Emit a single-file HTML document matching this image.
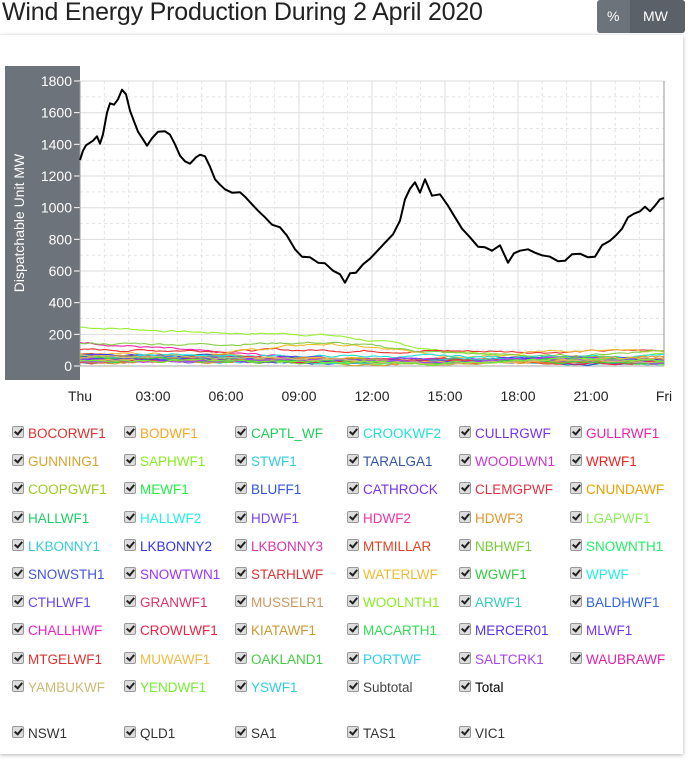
<!DOCTYPE html>
<html><head><meta charset="utf-8">
<style>
body{margin:0;width:690px;height:760px;background:#fff;font-family:"Liberation Sans",sans-serif;position:relative;overflow:hidden}
h1{position:absolute;left:2px;top:-2px;margin:0;font-weight:normal;font-size:25px;color:#222;letter-spacing:-0.2px}
.btns{position:absolute;left:597px;top:0;width:88px;height:33px;background:#6c737a;border-radius:3px;color:#fff;font-size:14px}
.btns span{position:absolute;top:8px}
.btns .on{position:absolute;left:33px;top:0;width:55px;height:33px;background:#5a6168;border-radius:0 3px 3px 0}
.card{position:absolute;left:0;top:35px;width:683px;height:719px;box-shadow:0 1px 4px rgba(0,0,0,.3);background:#fff}
.lg{position:absolute;font-size:13.5px;white-space:nowrap}
.cb{position:absolute;width:10px;height:10px;border:1px solid #999;border-radius:2px;background:#ddd;top:-8px}
.cb:after{content:"";position:absolute;left:3px;top:0px;width:3px;height:6px;border:solid #222;border-width:0 2px 2px 0;transform:rotate(40deg)}
.lg b{font-weight:normal;position:absolute;left:16px;top:-8px}
</style></head><body>
<h1>Wind Energy Production During 2 April 2020</h1>
<div class="btns"><span style="left:10px">%</span><div class="on"></div><span style="left:46px">MW</span></div>
<div class="card"></div>
<svg id="ch" width="690" height="420" style="position:absolute;left:0;top:0"></svg>
<div id="leg"></div>
<script>
var s='';
s+='<rect x="5" y="66" width="75" height="314" fill="#6c737a"/>';
for(var i=0;i<=18;i++){var y=366-i*15.83;s+='<line x1="80" x2="664" y1="'+y+'" y2="'+y+'" stroke="'+(i%2?'#e4e4e4':'#ddd')+'" '+(i%2?'stroke-dasharray="3,3"':'')+'/>';}
for(var i=0;i<=24;i++){var x=80+i*24.33;s+='<line y1="81" y2="366" x1="'+x+'" x2="'+x+'" stroke="'+(i%3?'#e4e4e4':'#ddd')+'" '+(i%3?'stroke-dasharray="3,3"':'')+'/>';}
for(var i=0;i<=9;i++){var y=366-i*31.67;s+='<text x="72" y="'+(y+5)+'" fill="#fff" font-size="14" text-anchor="end" font-family="Liberation Sans">'+(i*200)+'</text><line x1="74" x2="80" y1="'+y+'" y2="'+y+'" stroke="#fff"/>';}
s+='<text transform="translate(24,223) rotate(-90)" fill="#fff" font-size="14" text-anchor="middle" font-family="Liberation Sans">Dispatchable Unit MW</text>';
var xl=['Thu','03:00','06:00','09:00','12:00','15:00','18:00','21:00','Fri'];
for(var i=0;i<9;i++){s+='<text x="'+(80+i*73)+'" y="401" font-size="14" fill="#222" text-anchor="middle" font-family="Liberation Sans">'+xl[i]+'</text>';}
s+='<line x1="80" x2="80" y1="81" y2="366" stroke="#999"/><line x1="664" x2="664" y1="81" y2="366" stroke="#999"/><line x1="80" x2="664" y1="366" y2="366" stroke="#aaa"/>';
var cols=['#9e3','#e2a','#e33','#eb3','#8c4','#2dd','#73e','#d9a330','#8e2','#3cd','#35c','#c3c','#e22','#9c2','#2e4','#35d','#d34','#e9a000','#2c6','#2ee','#74e','#e3a','#d93','#8e5','#33e','#d42','#7c3','#93f','#3c4','#64e','#c96','#3cb','#e24','#c93','#53e','#eb4','#4c4','#a4e','#cb7','#7e3'];
var seed=7;function r(){seed=(seed*9301+49297)%233280;return seed/233280;}
var base=[[245,210,200,90,50,80],[150,80,50,30,60,40],[100,100,100,95,90,100],[80,80,145,60,100,85],[140,140,150,80,60,110],[60,70,60,60,50,70]];
for(var k=0;k<cols.length;k++){
 var b=base[k]||[20+r()*50,20+r()*50,10+r()*40,10+r()*40,10+r()*50,10+r()*50];
 var v=b[0],p='';
 for(var x=80;x<=664;x+=4){var t=(x-80)/584*5;var i0=Math.min(4,Math.floor(t)),f=t-i0;var tgt=b[i0]*(1-f)+b[i0+1]*f;v+= (tgt-v)*0.2+(r()-0.5)*12;if(v<2)v=2;p+=(x==80?'M':'L')+x+','+(366-v*0.1583).toFixed(1);}
 s+='<path d="'+p+'" fill="none" stroke="'+cols[k]+'" stroke-width="1.1"/>';
}
var pts=[[80,160],[83,150],[86,146],[93,140],[97,137],[100,143],[103,135],[107,112],[110,104],[114,104],[118,100],[122,89],[126,95],[130,110],[134,122],[138,131],[143,140],[147,145],[152,139],[158,131],[165,132],[170,134],[175,145],[180,155],[185,162],[190,163],[196,158],[200,154],[205,157],[210,166],[215,180],[220,184],[225,190],[232,192],[240,193],[245,196],[252,205],[258,210],[265,218],[272,224],[280,228],[287,235],[295,250],[302,256],[310,258],[318,262],[325,264],[333,270],[340,275],[345,282],[350,274],[356,272],[363,265],[370,258],[377,252],[385,242],[393,235],[400,220],[405,200],[410,188],[415,183],[420,192],[425,180],[432,195],[440,195],[448,205],[455,218],[462,228],[470,238],[478,246],[485,248],[492,250],[500,246],[508,262],[514,254],[520,250],[528,250],[535,252],[542,256],[550,256],[558,262],[565,260],[572,255],[580,253],[588,258],[595,256],[602,246],[610,240],[616,236],[622,228],[628,218],[634,213],[640,212],[645,206],[650,212],[655,205],[660,200],[664,198]];
var d='';for(var i=0;i<pts.length;i++){var jj=(i%2?0.7:-0.7);d+=(i?'L':'M')+pts[i][0]+','+(pts[i][1]+(i&&i<pts.length-1?jj:0));}
s+='<path d="'+d+'" fill="none" stroke="#000" stroke-width="2" stroke-linejoin="round"/>';
document.getElementById('ch').innerHTML=s;
var L=[['BOCORWF1','#d33'],['BODWF1','#f5a623'],['CAPTL_WF','#2c5'],['CROOKWF2','#2dd'],['CULLRGWF','#73e'],['GULLRWF1','#e2a'],
['GUNNING1','#d9a330'],['SAPHWF1','#8e2'],['STWF1','#3cd'],['TARALGA1','#35a'],['WOODLWN1','#c3c'],['WRWF1','#e22'],
['COOPGWF1','#9c2'],['MEWF1','#2e4'],['BLUFF1','#35d'],['CATHROCK','#73e'],['CLEMGPWF','#d34'],['CNUNDAWF','#e9a000'],
['HALLWF1','#2c6'],['HALLWF2','#2ee'],['HDWF1','#74e'],['HDWF2','#e3a'],['HDWF3','#d93'],['LGAPWF1','#8e5'],
['LKBONNY1','#3cd'],['LKBONNY2','#33e'],['LKBONNY3','#d3a'],['MTMILLAR','#d42'],['NBHWF1','#7c3'],['SNOWNTH1','#2e6'],
['SNOWSTH1','#45d'],['SNOWTWN1','#93f'],['STARHLWF','#d33'],['WATERLWF','#eb3'],['WGWF1','#3c4'],['WPWF','#2ee'],
['CTHLWF1','#64e'],['GRANWF1','#d36'],['MUSSELR1','#c96'],['WOOLNTH1','#8e2'],['ARWF1','#3cb'],['BALDHWF1','#36d'],
['CHALLHWF','#e2b'],['CROWLWF1','#e24'],['KIATAWF1','#c93'],['MACARTH1','#3d5'],['MERCER01','#53e'],['MLWF1','#73e'],
['MTGELWF1','#d33'],['MUWAWF1','#eb4'],['OAKLAND1','#4c4'],['PORTWF','#3ce'],['SALTCRK1','#a4e'],['WAUBRAWF','#d2a'],
['YAMBUKWF','#cb7'],['YENDWF1','#7e3'],['YSWF1','#3cd'],['Subtotal','#444'],['Total','#000']];
var cx=[12,124,235,347,459,570],h='';
for(var i=0;i<L.length;i++){var c=i%6,rw=Math.floor(i/6);h+='<div class="lg" style="left:'+cx[c]+'px;top:'+(434+rw*28.2)+'px;color:'+L[i][1]+'"><i class="cb"></i><b>'+L[i][0]+'</b></div>';}
var R=['NSW1','QLD1','SA1','TAS1','VIC1'];
for(var i=0;i<5;i++)h+='<div class="lg" style="left:'+cx[i]+'px;top:734px;color:#333"><i class="cb"></i><b>'+R[i]+'</b></div>';
document.getElementById('leg').innerHTML=h;
</script>
</body></html>
